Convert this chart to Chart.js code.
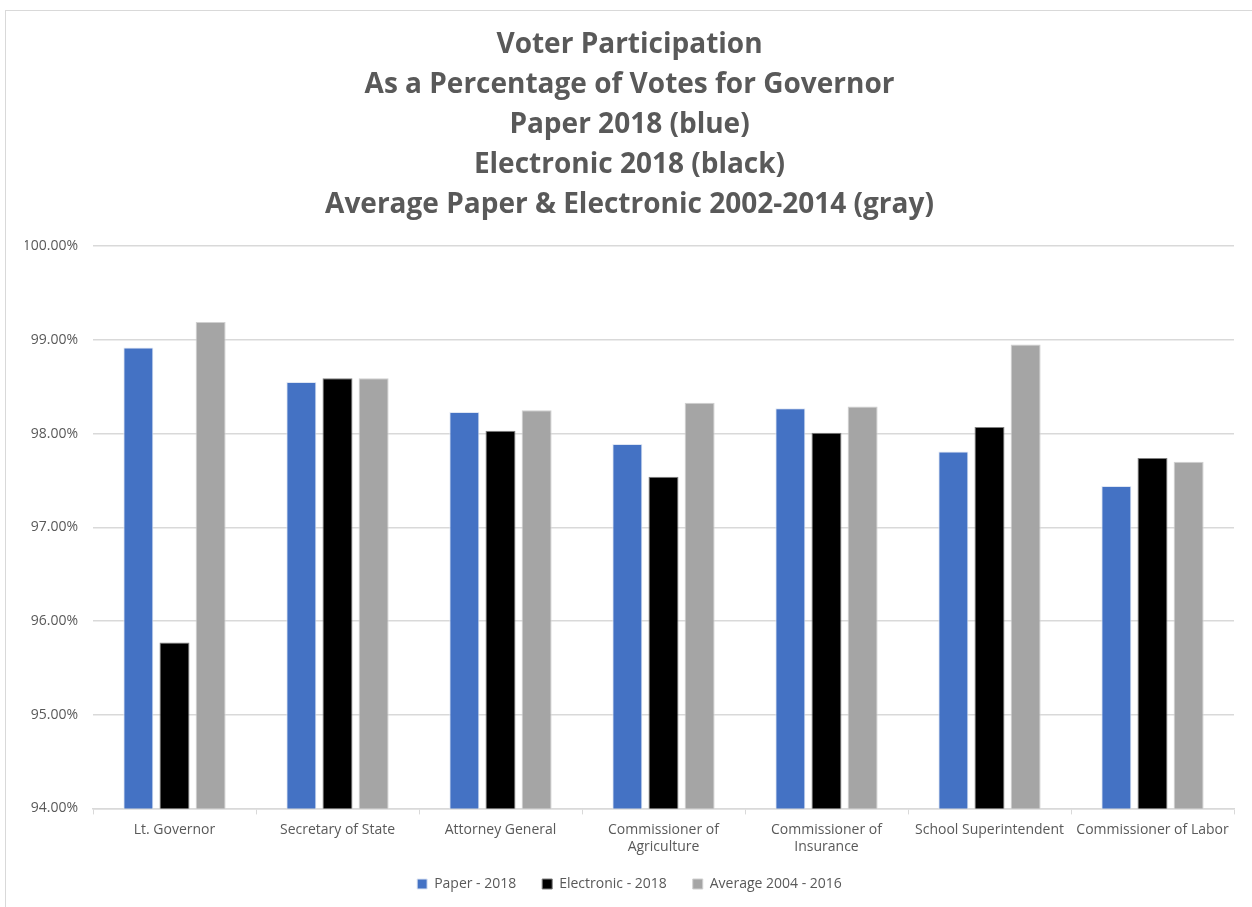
<!DOCTYPE html>
<html>
<head>
  <title>Voter Participation</title>
  <script src="https://cdn.jsdelivr.net/npm/chart.js"></script>
  <style>
    body { margin: 0; background: #fff; overflow: hidden; }
    #wrap { position: absolute; left: 5px; top: 10px; width: 1260px; height: 910px;
            border-left: 1px solid #d9d9d9; border-top: 1px solid #d9d9d9; }
    canvas { display: block; }
  </style>
</head>
<body>
  <div id="wrap"><canvas id="voteChart" width="1247" height="897"></canvas></div>

  <script>
    const offices = [
      "Lt. Governor",
      "Secretary of State",
      "Attorney General",
      ["Commissioner of", "Agriculture"],
      ["Commissioner of", "Insurance"],
      "School Superintendent",
      "Commissioner of Labor"
    ];
    const paper2018 = [98.92, 98.55, 98.23, 97.89, 98.27, 97.81, 97.44];
    const electronic2018 = [95.77, 98.59, 98.03, 97.54, 98.01, 98.07, 97.74];
    const average0416 = [99.19, 98.59, 98.25, 98.33, 98.29, 98.95, 97.70];
    const titleLines = [
      "Voter Participation",
      "As a Percentage of Votes for Governor",
      "Paper 2018 (blue)",
      "Electronic 2018 (black)",
      "Average Paper & Electronic 2002-2014 (gray)"
    ];

    Chart.defaults.font.family = "'Open Sans', sans-serif";
    Chart.defaults.color = "#595959";

    // wider gaps between legend entries without making the legend taller
    function spacedLabels(chart) {
      const items = Chart.defaults.plugins.legend.labels.generateLabels(chart);
      return items.map((it, i) => ({ ...it, text: i < items.length - 1 ? it.text + "   " : it.text }));
    }

    const ctx = document.getElementById("voteChart").getContext("2d");
    new Chart(ctx, {
      type: "bar",
      data: {
        labels: offices,
        datasets: [
          { label: "Paper - 2018", data: paper2018, backgroundColor: "#4472c4",
            borderColor: "#dfe6f3", borderWidth: 1 },
          { label: "Electronic - 2018", data: electronic2018, backgroundColor: "#000000",
            borderColor: "#7f7f7f", borderWidth: 1 },
          { label: "Average 2004 - 2016", data: average0416, backgroundColor: "#a5a5a5",
            borderColor: "#d0d0d0", borderWidth: 1 }
        ]
      },
      options: {
        responsive: false,
        animation: false,
        categoryPercentage: 0.665,
        barPercentage: 0.83,
        layout: { padding: { left: 19, right: 19, top: 8, bottom: 7 } },
        plugins: {
          title: {
            display: true,
            text: titleLines,
            color: "#595959",
            font: { size: 28, weight: "bold", lineHeight: 1.43 },
            padding: { top: 6, bottom: 21 }
          },
          legend: {
            position: "bottom",
            labels: {
              boxWidth: 10, boxHeight: 10, padding: 15,
              font: { size: 14 }, color: "#595959",
              generateLabels: spacedLabels
            }
          },
          tooltip: { enabled: false }
        },
        scales: {
          y: {
            min: 94, max: 100,
            afterFit: s => { s.width = 68; },
            ticks: {
              stepSize: 1, padding: 15, font: { size: 14 },
              callback: v => v.toFixed(2) + "%"
            },
            grid: { color: "#d9d9d9", lineWidth: 1.5, drawTicks: false },
            border: { display: false }
          },
          x: {
            ticks: { font: { size: 14 }, padding: 7, maxRotation: 0, autoSkip: false },
            grid: { drawOnChartArea: false, color: "#d9d9d9", tickLength: 6 },
            border: { color: "#d9d9d9", width: 1.5 }
          }
        }
      }
    });
  </script>
</body>
</html>
